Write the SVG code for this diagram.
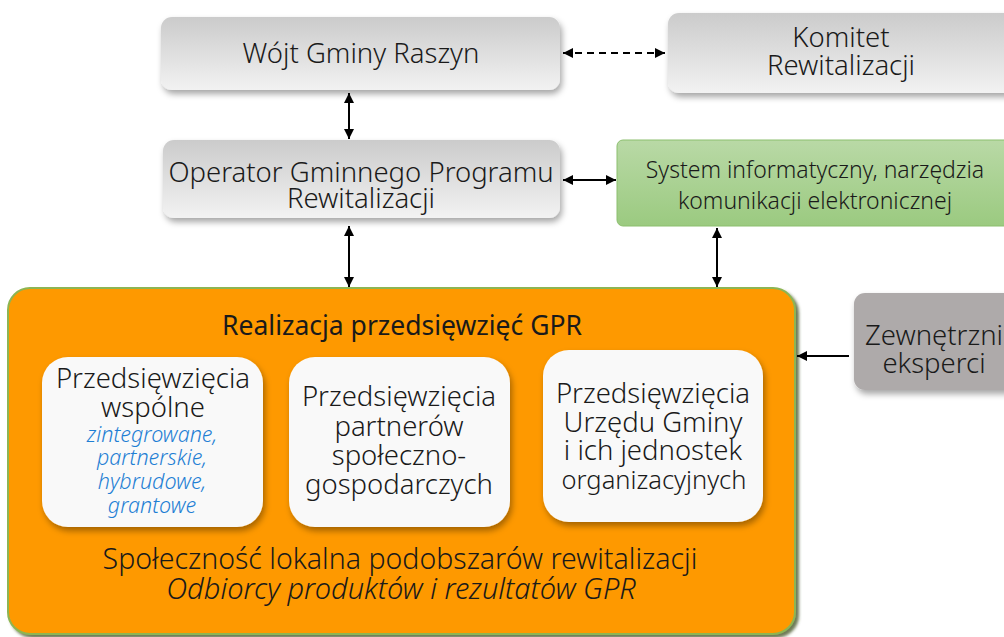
<svg xmlns="http://www.w3.org/2000/svg" width="1004" height="637" viewBox="0 0 1004 637">
<style>
text{font-family:"Noto Sans","Open Sans","DejaVu Sans",sans-serif;font-weight:300;fill:#1a1a1a;text-anchor:middle}
.big{font-size:27.5px}
.mid{font-size:23px}
.it{font-style:italic}
.blue{fill:#1f7fd4;font-size:21.5px;font-style:italic}
.con{stroke:#000;stroke-width:2;fill:none}
</style>
<defs>
<linearGradient id="gray" x1="0" y1="0" x2="0" y2="1"><stop offset="0" stop-color="#cbcbcb"/><stop offset="1" stop-color="#f2f2f2"/></linearGradient>
<linearGradient id="green" x1="0" y1="0" x2="0" y2="1"><stop offset="0" stop-color="#b9d9a6"/><stop offset="1" stop-color="#9bca80"/></linearGradient>
<filter id="sh" x="-10%" y="-10%" width="130%" height="140%"><feDropShadow dx="2" dy="4" stdDeviation="3" flood-color="#000" flood-opacity="0.35"/></filter>
<filter id="shO" x="-5%" y="-5%" width="110%" height="110%"><feDropShadow dx="3" dy="3" stdDeviation="1.5" flood-color="#4a5a2a" flood-opacity="0.8"/></filter>
<marker id="ah" viewBox="0 0 10 10" refX="10" refY="5" markerWidth="5" markerHeight="5" orient="auto-start-reverse" markerUnits="strokeWidth"><path d="M0,0 L10,5 L0,10 z" fill="#000"/></marker>
</defs>

<g id="wojt"><rect x="161" y="17" width="399" height="73" rx="11" fill="url(#gray)" filter="url(#sh)"/><text class="big" x="361" y="63">Wójt Gminy Raszyn</text></g>
<g id="komitet"><rect x="668" y="13" width="350" height="80" rx="11" fill="url(#gray)" filter="url(#sh)"/><text class="big" x="841" y="47">Komitet</text><text class="big" x="841" y="75">Rewitalizacji</text></g>
<g id="operator"><rect x="163" y="140" width="397" height="78" rx="11" fill="url(#gray)" filter="url(#sh)"/><text class="big" x="361" y="182">Operator Gminnego Programu</text><text class="big" x="361" y="208">Rewitalizacji</text></g>
<g id="system"><rect x="617" y="140" width="400" height="86" rx="6" fill="url(#green)" stroke="#8cbf6e" stroke-width="1"/><text class="mid" x="815" y="178">System informatyczny, narzędzia</text><text class="mid" x="815" y="209">komunikacji elektronicznej</text></g>
<g id="eksperci"><rect x="854" y="293" width="170" height="97" rx="11" fill="#aeaaaa" filter="url(#sh)"/><text class="big" x="934" y="345">Zewnętrzni</text><text class="big" x="934" y="373">eksperci</text></g>

<g id="realizacja"><rect x="8" y="288" width="787" height="346" rx="22" fill="#fe9900" stroke="#8db552" stroke-width="2" filter="url(#shO)"/>
<text x="402" y="335" style="font-size:26.5px;font-weight:400">Realizacja przedsięwzięć GPR</text>
<text x="400" y="569" style="font-size:28.5px">Społeczność lokalna podobszarów rewitalizacji</text>
<text class="it" x="401" y="599" style="font-size:29px">Odbiorcy produktów i rezultatów GPR</text></g>

<g id="wspolne"><rect x="42" y="357" width="221" height="170" rx="26" fill="#f9f9f9" filter="url(#sh)"/>
<text class="big" x="153" y="388">Przedsięwzięcia</text><text class="big" x="153" y="417">wspólne</text>
<text class="blue" x="152" y="442">zintegrowane,</text><text class="blue" x="152" y="465">partnerskie,</text><text class="blue" x="152" y="489">hybrudowe,</text><text class="blue" x="152" y="513">grantowe</text></g>
<g id="partnerow"><rect x="289" y="357" width="221" height="170" rx="26" fill="#f9f9f9" filter="url(#sh)"/>
<text class="big" x="399" y="406">Przedsięwzięcia</text><text class="big" x="399" y="436">partnerów</text><text class="big" x="399" y="465">społeczno-</text><text class="big" x="399" y="494">gospodarczych</text></g>
<g id="urzedu"><rect x="543" y="350" width="220" height="172" rx="26" fill="#f9f9f9" filter="url(#sh)"/>
<text class="big" x="653" y="403">Przedsięwzięcia</text><text class="big" x="653" y="432">Urzędu Gminy</text><text class="big" x="653" y="460">i ich jednostek</text><text x="654" y="489" style="font-size:25.5px">organizacyjnych</text></g>

<g id="connectors">
<line class="con" x1="563" y1="53" x2="665" y2="53" stroke-dasharray="7,5" marker-start="url(#ah)" marker-end="url(#ah)"/>
<line class="con" x1="349" y1="93" x2="349" y2="139" marker-start="url(#ah)" marker-end="url(#ah)"/>
<line class="con" x1="563" y1="180" x2="616" y2="180" marker-start="url(#ah)" marker-end="url(#ah)"/>
<line class="con" x1="349" y1="226" x2="349" y2="287" marker-start="url(#ah)" marker-end="url(#ah)"/>
<line class="con" x1="717" y1="228" x2="717" y2="287" marker-start="url(#ah)" marker-end="url(#ah)"/>
<line class="con" x1="849" y1="356" x2="797" y2="356" marker-end="url(#ah)"/>
</g>
</svg>
